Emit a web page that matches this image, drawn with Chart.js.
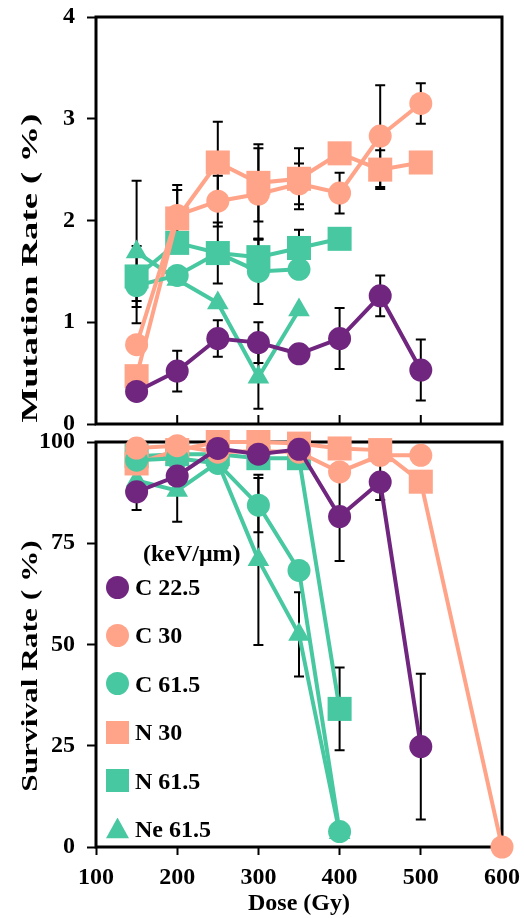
<!DOCTYPE html>
<html>
<head>
<meta charset="utf-8">
<script src="https://cdn.jsdelivr.net/npm/chart.js@4.4.1/dist/chart.umd.min.js"></script>
<style>
  body { margin: 0; background: #fff; }
  #wrap { position: relative; width: 524px; height: 918px; font: bold 24px "Liberation Serif", serif; color: #000; }
  canvas { position: absolute; left: 0; }
  #top { top: 0; }
  #bottom { top: 425px; }
  .ylab { position: absolute; white-space: nowrap; line-height: 28px; }
  .key-title { position: absolute; left: 143px; top: 539px; line-height: 28px; }
  .row { position: absolute; left: 106px; height: 28px; line-height: 28px; display: flex; align-items: center; white-space: nowrap; }
  .mk { width: 23px; height: 23px; margin-right: 6px; flex: none; }
  .mk.circle { border-radius: 50%; }
  .mk.triangle { clip-path: polygon(50% 0, 100% 90%, 0 90%); }
</style>
</head>
<body>
<div id="wrap">
  <canvas id="top" width="524" height="445"></canvas>
  <canvas id="bottom" width="524" height="493"></canvas>
  <div id="key"></div>
</div>
<script>
const doses = [150, 200, 250, 300, 350, 400, 450, 500, 600];

// mutation rate (%)
const mutC225 = [0.32, 0.52, 0.84, 0.80, 0.69, 0.84, 1.26, 0.53];
const mutC225Err = [null, 0.2, 0.18, 0.2, null, 0.3, 0.2, 0.3];
const mutC30 = [0.78, 2.05, 2.19, 2.26, 2.36, 2.27, 2.83, 3.15];
const mutC30Err = [null, 0.3, 0.25, 0.45, 0.2, 0.2, 0.5, 0.2];
const mutC615 = [1.36, 1.46, 1.68, 1.50, 1.52];
const mutC615Err = [0.15, null, null, 0.32, null];
const mutN30 = [0.47, 2.02, 2.57, 2.37, 2.41, 2.66, 2.50, 2.57];
const mutN30Err = [null, 0.28, 0.4, 0.38, 0.3, null, 0.19, null];
const mutN615 = [1.45, 1.78, 1.68, 1.64, 1.73, 1.82];
const mutN615Err = [0.3, null, 0.3, 0.18, 0.18, null];
const mutNe615 = [1.69, 1.42, 1.19, 0.46, 1.12];
const mutNe615Err = [0.7, null, null, 0.31, null];

// survival rate (%)
const surC225 = [87.7, 91.6, 98.4, 97.0, 98.2, 81.6, 90.1, 24.8];
const surC225Err = [4.5, null, null, null, null, 11, 4.4, 18];
const surC30 = [98.5, 99.1, 97.5, 97.8, 97.5, 92.6, 96.7, 96.7];
const surC30Err = [null, null, null, null, null, null, null, null];
const surC615 = [95.5, 96, 94.7, 84.4, 68.3, 3.8];
const surC615Err = [null, null, null, 6.7, null, null];
const surN30 = [94.7, 98, 100, 100, 99.6, 98.4, 98, 90.2, 0];
const surN30Err = [null, null, null, null, null, null, null, null, null];
const surN615 = [96.5, 97, 97, 96, 96, 34.1];
const surN615Err = [null, null, null, null, null, 10.2];
const surNe615 = [90.5, 88, 95, 70.9, 52.5, 3.5];
const surNe615Err = [null, 7.7, null, 21, 10.4, null];

const mutTicks = [0, 1, 2, 3, 4];
const surTicks = [0, 25, 50, 75, 100];
const doseTicks = [100, 200, 300, 400, 500, 600];

const purple = '#70257f';
const salmon = '#ffa489';
const teal = '#48c8a0';

const keyItems = [
  { label: 'C 22.5', color: purple, style: 'circle' },
  { label: 'C 30', color: salmon, style: 'circle' },
  { label: 'C 61.5', color: teal, style: 'circle' },
  { label: 'N 30', color: salmon, style: 'rect' },
  { label: 'N 61.5', color: teal, style: 'rect' },
  { label: 'Ne 61.5', color: teal, style: 'triangle' }
];

const radiusFor = { circle: 11.5, rect: 17, triangle: 12.5 };

function series(item, vals, errs, styles) {
  const st = styles || vals.map(() => item.style);
  return {
    label: item.label,
    data: vals.map((v, i) => ({ x: doses[i], y: v })),
    errors: errs,
    borderColor: item.color,
    backgroundColor: item.color,
    borderWidth: 4,
    pointStyle: st,
    pointRadius: st.map(s => radiusFor[s]),
    pointBorderWidth: 0,
    pointBackgroundColor: item.color,
    clip: false
  };
}

const framePlugin = {
  id: 'frame',
  beforeDatasetsDraw(chart) {
    const { ctx, chartArea: a, scales } = chart;
    ctx.save();
    // error bars
    ctx.strokeStyle = '#000';
    ctx.lineWidth = 2;
    chart.data.datasets.forEach(ds => {
      if (!ds.errors) return;
      ds.data.forEach((p, i) => {
        const e = ds.errors[i];
        if (e == null) return;
        const x = scales.x.getPixelForValue(p.x);
        const y1 = scales.y.getPixelForValue(p.y + e);
        const y2 = scales.y.getPixelForValue(p.y - e);
        ctx.beginPath();
        ctx.moveTo(x, y1); ctx.lineTo(x, y2);
        ctx.moveTo(x - 5, y1); ctx.lineTo(x + 5, y1);
        ctx.moveTo(x - 5, y2); ctx.lineTo(x + 5, y2);
        ctx.stroke();
      });
    });
    // box
    ctx.lineWidth = 3;
    ctx.strokeRect(a.left, a.top, a.right - a.left, a.bottom - a.top);
    // inner ticks on the upper panel
    if (chart.options.innerTicks) {
      ctx.lineWidth = 2;
      [200, 300, 400, 500].forEach(v => {
        const x = scales.x.getPixelForValue(v);
        ctx.beginPath();
        ctx.moveTo(x, a.bottom); ctx.lineTo(x, a.bottom - 9);
        ctx.stroke();
      });
    }
    ctx.restore();
  }
};

const tickFont = { family: 'Liberation Serif', size: 24, weight: 'bold' };

function yScale(min, max, ticks) {
  return {
    min: min, max: max,
    afterBuildTicks: s => { s.ticks = ticks.map(v => ({ value: v })); },
    afterFit: s => { s.width = 96; s.paddingTop = 0; s.paddingBottom = 0; },
    border: { display: false },
    grid: { drawOnChartArea: false, tickLength: 9, tickWidth: 2, tickColor: '#000' },
    ticks: { color: '#000', font: tickFont, padding: 12 }
  };
}

function makeChart(id, datasets, y, xOpts, padTop, inner) {
  return new Chart(document.getElementById(id), {
    type: 'line',
    data: { datasets: datasets },
    options: {
      responsive: false,
      animation: false,
      devicePixelRatio: 1,
      innerTicks: inner,
      layout: { padding: { top: padTop, right: 22, left: 0, bottom: 0 } },
      plugins: { legend: { display: false }, tooltip: { enabled: false } },
      scales: { x: xOpts, y: y }
    },
    plugins: [framePlugin]
  });
}

makeChart('top', [
  series(keyItems[0], mutC225, mutC225Err),
  series(keyItems[1], mutC30, mutC30Err),
  series(keyItems[2], mutC615, mutC615Err),
  series(keyItems[3], mutN30, mutN30Err),
  series(keyItems[4], mutN615, mutN615Err),
  series(keyItems[5], mutNe615, mutNe615Err)
], yScale(0, 4, mutTicks), {
  type: 'linear', min: 100, max: 600,
  afterFit: s => { s.height = 21; s.paddingLeft = 0; s.paddingRight = 0; },
  border: { display: false },
  grid: { display: false },
  ticks: { display: false }
}, 17, true);

makeChart('bottom', [
  series(keyItems[0], surC225, surC225Err),
  series(keyItems[1], surC30, surC30Err),
  series(keyItems[2], surC615, surC615Err),
  series(keyItems[3], surN30, surN30Err, surN30.map((v, i) => i === 8 ? 'circle' : 'rect')),
  series(keyItems[4], surN615, surN615Err),
  series(keyItems[5], surNe615, surNe615Err)
], yScale(0, 100, surTicks), {
  type: 'linear', min: 100, max: 600,
  afterBuildTicks: s => { s.ticks = doseTicks.map(v => ({ value: v })); },
  afterFit: s => { s.height = 71; s.paddingLeft = 0; s.paddingRight = 0; },
  border: { display: false },
  grid: { drawOnChartArea: false, tickLength: 8, tickWidth: 2, tickColor: '#000' },
  ticks: { color: '#000', font: tickFont, padding: 8, maxRotation: 0 },
  title: { display: true, text: 'Dose (Gy)', color: '#000', font: tickFont, padding: { top: 0, bottom: 0 } }
}, 14, false);

const wrap = document.getElementById('wrap');

// y axis titles, stretched along the text like the source figure
[['Mutation Rate ( %)', 268, 309], ['Survival Rate ( %)', 666, 252]].forEach(([text, cy, len]) => {
  const el = document.createElement('div');
  el.className = 'ylab';
  el.textContent = text;
  wrap.append(el);
  const w = el.offsetWidth;
  el.style.left = (29 - w / 2) + 'px';
  el.style.top = (cy - 14) + 'px';
  el.style.transform = `rotate(-90deg) scaleX(${len / w})`;
});

// legend
const key = document.getElementById('key');
const kt = document.createElement('div');
kt.className = 'key-title';
kt.textContent = '(keV/\u03bcm)';
key.append(kt);
keyItems.forEach((it, i) => {
  const row = document.createElement('div');
  row.className = 'row';
  row.style.top = (573 + i * 48.4) + 'px';
  const mk = document.createElement('span');
  mk.className = 'mk ' + it.style;
  mk.style.background = it.color;
  const tx = document.createElement('span');
  tx.textContent = it.label;
  row.append(mk, tx);
  key.append(row);
});
</script>
</body>
</html>
